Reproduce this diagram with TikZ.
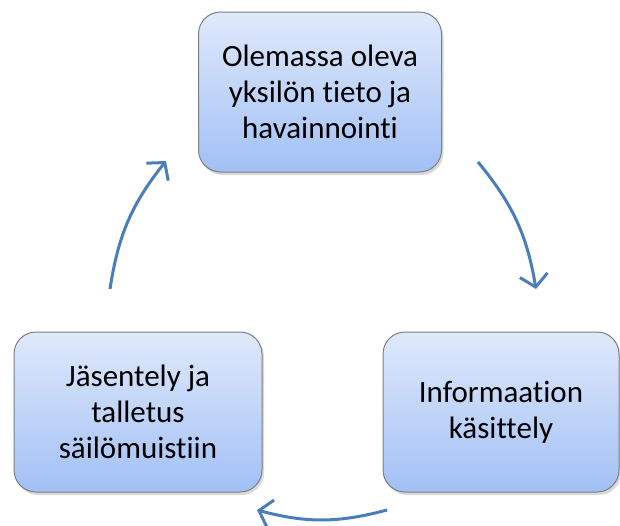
\documentclass[tikz,border=0pt]{standalone}
\usepackage{fontspec}
\setmainfont{Carlito}[RawFeature={-liga;-clig;-calt;-dlig}]
\usetikzlibrary{
    arrows.meta,
    shadows,
    positioning
}
\definecolor{boxtop}{HTML}{DFE9FB}
\definecolor{boxbot}{HTML}{A2C0F5}
\definecolor{boxline}{HTML}{7F7F7F}
\definecolor{arrowblue}{HTML}{4A7EBB}
\tikzset{
    stage/.style={rectangle, rounded corners=22pt, draw=boxline, line width=1pt,
        top color=boxtop, bottom color=boxbot, minimum height=160pt,
        align=center, font=\fontsize{31}{36}\selectfont,
        drop shadow={shadow xshift=2pt, shadow yshift=-3pt, opacity=0.3}},
    flow/.style={draw=arrowblue, line width=3pt,
        -{Straight Barb[length=12pt,width=28pt]}}
}

\begin{document}
\begin{tikzpicture}[x=1pt, y=-1pt]
    \useasboundingbox (0,0) rectangle (620,525);
    \node[stage, minimum width=243pt] (a) at (320, 92) {Olemassa oleva\\yksilön tieto ja\\havainnointi};
    \node[stage, minimum width=236pt] (b) at (501, 412) {Informaation\\käsittely};
    \node[stage, minimum width=248pt] (c) at (138, 412) {Jäsentely ja\\talletus\\säilömuistiin};
    \coordinate (ab1) at (478, 162);
    \coordinate (ab2) at (536, 289);
    \coordinate (bc1) at (387, 510);
    \coordinate (bc2) at (257, 510);
    \coordinate (ca1) at (110, 289);
    \coordinate (ca2) at (166, 161);
    \path
    (ab1) edge[flow, bend left=15] (ab2)
    (bc1) edge[flow, bend left=15] (bc2)
    (ca1) edge[flow, bend left=15] (ca2);
\end{tikzpicture}
\end{document}
